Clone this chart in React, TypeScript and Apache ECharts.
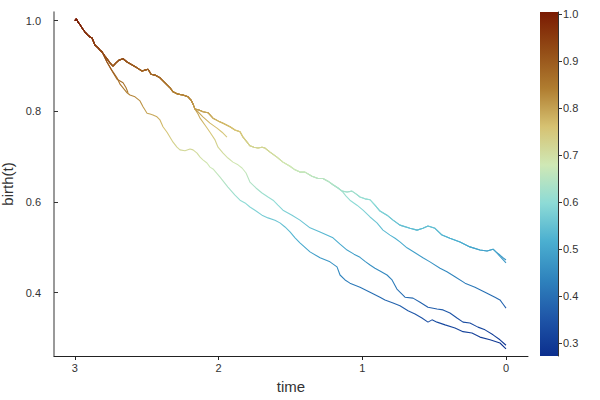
import React, { useEffect, useRef } from 'react';
import * as echarts from 'echarts';

const FONT = '"Liberation Sans", Arial, Helvetica, sans-serif';

// axis ticks
const xTicks = [0, 1, 2, 3];
const yTicks = [0.4, 0.6, 0.8, 1.0];
const cbTicks = [0.3, 0.4, 0.5, 0.6, 0.7, 0.8, 0.9, 1.0];
const CB_MIN = 0.272;
const CB_MAX = 1.005;

// colormap, low -> high
const cmapColors = ['#0c2f8e', '#1f56a8', '#2f83bd', '#4bafd0', '#8ddbd6', '#cfe8b5', '#d6c272', '#b07d30', '#934c16', '#7a1a02'];

// lineage segments: [time, birth(t)]
const rootSeg = [[3.0, 1.0], [2.99, 1.004], [2.978, 0.997], [2.964, 0.991], [2.95, 0.984], [2.93, 0.975], [2.909, 0.968], [2.895, 0.964], [2.881, 0.962], [2.86, 0.946], [2.839, 0.94], [2.825, 0.935], [2.811, 0.931]];

const branchA = [[2.791, 0.922], [2.77, 0.913], [2.756, 0.907], [2.735, 0.9], [2.714, 0.907], [2.693, 0.913], [2.665, 0.916], [2.637, 0.909], [2.61, 0.904], [2.568, 0.896], [2.533, 0.889], [2.512, 0.891], [2.491, 0.893], [2.47, 0.882], [2.443, 0.88], [2.408, 0.874], [2.373, 0.863], [2.338, 0.852], [2.317, 0.843], [2.283, 0.838], [2.248, 0.836], [2.213, 0.832], [2.192, 0.825], [2.178, 0.816], [2.164, 0.805]];

const branchA1 = [[2.136, 0.803], [2.109, 0.799], [2.074, 0.797], [2.039, 0.785], [2.004, 0.779], [1.969, 0.774], [1.921, 0.766], [1.886, 0.759], [1.851, 0.755], [1.83, 0.743], [1.802, 0.732], [1.782, 0.724], [1.754, 0.721], [1.726, 0.719], [1.698, 0.721], [1.677, 0.719], [1.642, 0.71], [1.594, 0.699], [1.552, 0.688], [1.503, 0.679], [1.468, 0.671], [1.434, 0.666], [1.399, 0.666], [1.35, 0.657], [1.308, 0.652], [1.274, 0.652], [1.239, 0.646], [1.204, 0.638], [1.169, 0.631], [1.141, 0.624]];

const branchA1u = [[1.106, 0.622], [1.072, 0.624], [1.044, 0.618], [1.016, 0.611], [0.981, 0.607], [0.946, 0.605], [0.912, 0.593], [0.877, 0.58], [0.828, 0.571], [0.786, 0.56], [0.738, 0.549], [0.668, 0.542], [0.619, 0.538], [0.578, 0.542], [0.543, 0.547], [0.494, 0.542], [0.445, 0.527], [0.39, 0.52], [0.32, 0.512], [0.251, 0.501], [0.181, 0.494], [0.132, 0.492], [0.09, 0.496], [0.07, 0.49]];
const tipA1u1 = [[0.042, 0.483], [0.021, 0.477], [0.0, 0.472]];
const tipA1u2 = [[0.042, 0.48], [0.021, 0.473], [0.0, 0.466]];

const branchA1l = [[1.113, 0.613], [1.086, 0.604], [1.037, 0.593], [0.995, 0.582], [0.946, 0.567], [0.898, 0.554], [0.856, 0.538], [0.807, 0.527], [0.772, 0.52], [0.738, 0.512], [0.689, 0.499], [0.633, 0.488], [0.578, 0.477], [0.529, 0.468], [0.459, 0.454], [0.411, 0.446], [0.355, 0.435], [0.285, 0.421], [0.216, 0.412], [0.146, 0.401], [0.077, 0.39], [0.042, 0.384], [0.021, 0.375], [0.0, 0.366]];

const branchShort = [[2.143, 0.799], [2.109, 0.788], [2.06, 0.774], [2.011, 0.763], [1.976, 0.754], [1.942, 0.743]];

const branchA3 = [[2.143, 0.794], [2.129, 0.785], [2.095, 0.77], [2.06, 0.754], [2.025, 0.737], [2.004, 0.721], [1.969, 0.708], [1.935, 0.697], [1.9, 0.688], [1.865, 0.682], [1.837, 0.675], [1.809, 0.664], [1.782, 0.644], [1.74, 0.631], [1.698, 0.62], [1.656, 0.611], [1.621, 0.604], [1.587, 0.593], [1.552, 0.582], [1.489, 0.571], [1.434, 0.56], [1.364, 0.543], [1.294, 0.534], [1.204, 0.521], [1.155, 0.507], [1.106, 0.494], [1.058, 0.485], [1.016, 0.478], [0.981, 0.469], [0.946, 0.461], [0.912, 0.454], [0.877, 0.448], [0.828, 0.439], [0.793, 0.428], [0.759, 0.408], [0.703, 0.39], [0.647, 0.388], [0.598, 0.379], [0.543, 0.368], [0.48, 0.364], [0.438, 0.362], [0.39, 0.355], [0.341, 0.344], [0.299, 0.335], [0.251, 0.333], [0.195, 0.324], [0.146, 0.318], [0.09, 0.307], [0.042, 0.296], [0.0, 0.284]];

const branchBHead = [[2.797, 0.922], [2.777, 0.909]];
const branchBTail = [[2.756, 0.898], [2.735, 0.887], [2.707, 0.874], [2.686, 0.86], [2.658, 0.849], [2.637, 0.841], [2.617, 0.836], [2.582, 0.832], [2.547, 0.823], [2.526, 0.81], [2.498, 0.796], [2.477, 0.794], [2.457, 0.792], [2.429, 0.788], [2.408, 0.781], [2.387, 0.766], [2.359, 0.754], [2.338, 0.743], [2.317, 0.732], [2.29, 0.721], [2.269, 0.715], [2.234, 0.713], [2.199, 0.717], [2.178, 0.715], [2.15, 0.708], [2.129, 0.699], [2.109, 0.693], [2.081, 0.686], [2.06, 0.677], [2.039, 0.673], [1.99, 0.655], [1.935, 0.633], [1.886, 0.615], [1.851, 0.604], [1.816, 0.598], [1.782, 0.589], [1.747, 0.582], [1.698, 0.571], [1.656, 0.565], [1.608, 0.56], [1.573, 0.554], [1.538, 0.545], [1.503, 0.534], [1.468, 0.521], [1.434, 0.51], [1.364, 0.49], [1.294, 0.477], [1.225, 0.468], [1.176, 0.457], [1.155, 0.439], [1.12, 0.428], [1.086, 0.421], [1.016, 0.412], [0.946, 0.401], [0.877, 0.39], [0.842, 0.384], [0.786, 0.377], [0.738, 0.371], [0.682, 0.36], [0.633, 0.353], [0.585, 0.344], [0.543, 0.335], [0.515, 0.34], [0.48, 0.335], [0.424, 0.329], [0.355, 0.322], [0.299, 0.314], [0.237, 0.311], [0.181, 0.302], [0.111, 0.296], [0.042, 0.289], [0.0, 0.276]];
const branchBSide = [[2.749, 0.893], [2.728, 0.882], [2.707, 0.871], [2.686, 0.867], [2.665, 0.863], [2.644, 0.852], [2.63, 0.841]];

const lineages = [
  [...rootSeg, ...branchBHead, ...branchBSide],
  [...rootSeg, ...branchBHead, ...branchBTail],
  [...rootSeg, ...branchA, ...branchA3],
  [...rootSeg, ...branchA, ...branchShort],
  [...rootSeg, ...branchA, ...branchA1, ...branchA1l],
  [...rootSeg, ...branchA, ...branchA1, ...branchA1u, ...tipA1u2],
  [...rootSeg, ...branchA, ...branchA1, ...branchA1u, ...tipA1u1],
];

export default function App() {
  const ref = useRef<HTMLDivElement>(null);
  useEffect(() => {
    if (!ref.current) return;
    const chart = echarts.init(ref.current, undefined, { renderer: 'svg' });
    const n = cmapColors.length;
    // ascending offsets: top (offset 0) = highest value
    const stops = cmapColors.map((_, i) => ({ offset: i / (n - 1), color: cmapColors[n - 1 - i] }));
    const lineSeries = lineages.map((d) => ({
      type: 'line',
      xAxisIndex: 0,
      yAxisIndex: 0,
      data: d,
      showSymbol: false,
      symbol: 'none',
      silent: true,
      lineStyle: { width: 1.1 },
    }));
    const lineIdx = lineSeries.map((_, i) => i);
    const cbSeries = {
      type: 'custom',
      xAxisIndex: 1,
      yAxisIndex: 1,
      silent: true,
      data: [[0, CB_MIN]],
      renderItem: (_params: any, api: any) => {
        const p1 = api.coord([0, CB_MAX]);
        const p2 = api.coord([1, CB_MIN]);
        return {
          type: 'rect',
          shape: { x: p1[0], y: p1[1], width: p2[0] - p1[0], height: p2[1] - p1[1] },
          style: { fill: new echarts.graphic.LinearGradient(0, 0, 0, 1, stops) },
        };
      },
    };
    const fmt1 = (v: number) => v.toFixed(1);
    const option: any = {
      animation: false,
      backgroundColor: '#ffffff',
      textStyle: { fontFamily: FONT },
      grid: [
        { left: 54, top: 12, width: 474, height: 344, containLabel: false, outerBoundsMode: 'none' },
        { left: 540, top: 12, width: 18, height: 344, containLabel: false, outerBoundsMode: 'none' },
      ],
      xAxis: [
        {
          gridIndex: 0,
          type: 'value',
          inverse: true,
          min: -0.1531,
          max: 3.1455,
          name: 'time',
          nameLocation: 'middle',
          nameGap: 23,
          nameTextStyle: { fontSize: 15, color: '#333', fontFamily: FONT },
          axisLine: { show: true, onZero: false, lineStyle: { color: '#222', width: 1 } },
          axisTick: { show: true, customValues: xTicks, length: 4, lineStyle: { color: '#222' } },
          axisLabel: { customValues: xTicks, fontSize: 11, color: '#333', margin: 6, fontFamily: FONT, formatter: (v: number) => String(v) },
          splitLine: { show: false },
        },
        { gridIndex: 1, type: 'value', min: 0, max: 1, show: false },
      ],
      yAxis: [
        {
          gridIndex: 0,
          type: 'value',
          min: 0.2603,
          max: 1.0192,
          name: 'birth(t)',
          nameLocation: 'middle',
          nameGap: 36,
          nameTextStyle: { fontSize: 15, color: '#333', fontFamily: FONT },
          axisLine: { show: true, onZero: false, lineStyle: { color: '#777', width: 1.5 } },
          axisTick: { show: true, inside: true, customValues: yTicks, length: 4, lineStyle: { color: '#333' } },
          axisLabel: { customValues: yTicks, fontSize: 11, color: '#333', margin: 13, fontFamily: FONT, formatter: fmt1 },
          splitLine: { show: false },
        },
        {
          gridIndex: 1,
          type: 'value',
          position: 'right',
          min: CB_MIN,
          max: CB_MAX,
          axisLine: { show: true, onZero: false, lineStyle: { color: '#333', width: 1 } },
          axisTick: { show: true, customValues: cbTicks, length: 4, lineStyle: { color: '#333' } },
          axisLabel: { customValues: cbTicks, fontSize: 11, color: '#333', margin: 5, fontFamily: FONT, formatter: fmt1 },
          splitLine: { show: false },
        },
      ],
      visualMap: {
        type: 'continuous',
        show: false,
        dimension: 1,
        seriesIndex: lineIdx,
        min: CB_MIN,
        max: CB_MAX,
        inRange: { color: cmapColors },
      },
      series: [...lineSeries, cbSeries],
    };
    chart.setOption(option);
    return () => chart.dispose();
  }, []);
  return <div ref={ref} style={{ position: 'absolute', left: 0, top: 0, width: 600, height: 400 }} />;
}
